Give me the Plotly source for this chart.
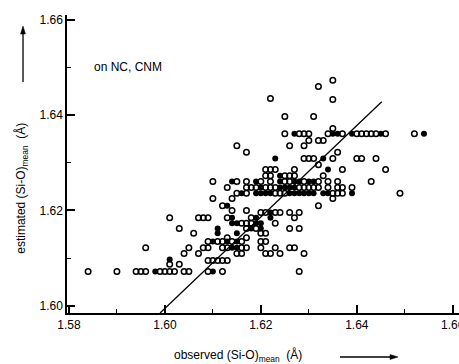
import plotly.graph_objects as go

# ---- data ----
# rows of estimated (Si-O)mean with observed values; open = one set, filled = other set
open_rows = [
    (1.6473, [1.635]),
    (1.6460, [1.632]),
    (1.6435, [1.622]),
    (1.6433, [1.635]),
    (1.6397, [1.625, 1.631]),
    (1.6372, [1.635]),
    (1.6361, [1.625, 1.628, 1.629, 1.630, 1.634, 1.637, 1.640, 1.641, 1.642, 1.643, 1.644, 1.646, 1.652]),
    (1.6347, [1.630, 1.632, 1.633]),
    (1.6336, [1.615, 1.626, 1.629]),
    (1.6322, [1.617, 1.636]),
    (1.6309, [1.629, 1.630, 1.631, 1.635, 1.640, 1.641, 1.644]),
    (1.6296, [1.632]),
    (1.6286, [1.621, 1.622, 1.623, 1.627, 1.637, 1.646]),
    (1.6273, [1.621, 1.622, 1.625, 1.626, 1.627, 1.633]),
    (1.6261, [1.610, 1.615, 1.617, 1.620, 1.622, 1.625, 1.626, 1.629, 1.632, 1.634, 1.636, 1.643]),
    (1.6248, [1.613, 1.617, 1.618, 1.619, 1.621, 1.622, 1.623, 1.628, 1.629, 1.630, 1.631, 1.632, 1.634, 1.636, 1.637, 1.639]),
    (1.6236, [1.615, 1.617, 1.623, 1.624, 1.625, 1.635, 1.636, 1.637, 1.649]),
    (1.6225, [1.610, 1.614, 1.635]),
    (1.6210, [1.612, 1.632]),
    (1.6200, [1.614, 1.617]),
    (1.6196, [1.620, 1.621, 1.623, 1.624, 1.626, 1.628]),
    (1.6185, [1.601, 1.607, 1.608, 1.609, 1.613, 1.618, 1.627]),
    (1.6173, [1.616, 1.617, 1.618, 1.623]),
    (1.6162, [1.603, 1.617, 1.619, 1.626, 1.628]),
    (1.6152, [1.606, 1.620, 1.621]),
    (1.6143, [1.613, 1.617]),
    (1.6135, [1.609, 1.611, 1.612, 1.614, 1.616, 1.620, 1.621]),
    (1.6122, [1.596, 1.605, 1.608, 1.609, 1.612, 1.613, 1.616, 1.617, 1.620, 1.623, 1.626, 1.627]),
    (1.6110, [1.604, 1.607, 1.615, 1.616, 1.621, 1.622, 1.624, 1.629]),
    (1.6095, [1.609, 1.610, 1.611, 1.612, 1.613]),
    (1.6087, [1.601, 1.603]),
    (1.6072, [1.584, 1.590, 1.594, 1.595, 1.596, 1.599, 1.600, 1.601, 1.602, 1.604, 1.605, 1.609, 1.612, 1.628]),
]

filled_rows = [
    (1.6361, [1.627, 1.635, 1.636, 1.639, 1.645, 1.654]),
    (1.6309, [1.623, 1.633]),
    (1.6286, [1.634]),
    (1.6273, [1.624]),
    (1.6261, [1.614, 1.619, 1.624, 1.627, 1.628, 1.630, 1.631]),
    (1.6248, [1.620, 1.624, 1.625, 1.626, 1.627]),
    (1.6236, [1.616, 1.619, 1.620, 1.621, 1.622, 1.626, 1.627, 1.628, 1.629, 1.630, 1.631, 1.633, 1.634, 1.639]),
    (1.6210, [1.613]),
    (1.6196, [1.622]),
    (1.6185, [1.614, 1.619, 1.622]),
    (1.6173, [1.614, 1.615, 1.619, 1.620]),
    (1.6162, [1.611, 1.618, 1.620]),
    (1.6152, [1.611, 1.615]),
    (1.6135, [1.610, 1.613, 1.615]),
    (1.6122, [1.614, 1.615]),
    (1.6097, [1.601]),
    (1.6072, [1.598, 1.610]),
]

fit_x = [1.599, 1.6452]
fit_y = [1.5985, 1.6428]

x_tick_vals = [1.58, 1.60, 1.62, 1.64, 1.66]
x_tick_text = ["1.58", "1.60", "1.62", "1.64", "1.66"]
y_tick_vals = [1.60, 1.62, 1.64, 1.66]
y_tick_text = ["1.60", "1.62", "1.64", "1.66"]
minor_vals = [1.59, 1.61, 1.63, 1.65]


def flatten(rows):
    xs, ys = [], []
    for y, row in rows:
        for x in row:
            xs.append(x)
            ys.append(y)
    return xs, ys


ox, oy = flatten(open_rows)
fx, fy = flatten(filled_rows)

FONT = "Liberation Sans, Arial, sans-serif"

fig = go.Figure()
fig.add_trace(go.Scatter(x=fit_x, y=fit_y, mode="lines",
                         line=dict(color="black", width=1.3), hoverinfo="skip"))
fig.add_trace(go.Scatter(x=ox, y=oy, mode="markers",
                         marker=dict(symbol="circle-open", size=5.5, color="black",
                                     line=dict(width=1.5, color="black"))))
fig.add_trace(go.Scatter(x=fx, y=fy, mode="markers",
                         marker=dict(symbol="circle", size=6, color="black",
                                     line=dict(width=0))))

axis_common = dict(showline=True, linecolor="black", linewidth=1.5,
                   ticks="inside", ticklen=8, tickwidth=1.5, tickcolor="black",
                   showgrid=False, zeroline=False, automargin=False,
                   ticklabeloverflow="allow",
                   tickfont=dict(family=FONT, size=12, color="black"))

fig.update_xaxes(range=[1.5796, 1.6613], tickmode="array",
                 tickvals=x_tick_vals, ticktext=x_tick_text,
                 minor=dict(tickmode="array", tickvals=minor_vals, ticks="inside",
                            ticklen=4, tickwidth=1, tickcolor="black"),
                 **axis_common)
fig.update_yaxes(range=[1.5985, 1.6610], tickmode="array",
                 tickvals=y_tick_vals, ticktext=y_tick_text,
                 minor=dict(tickmode="array", tickvals=minor_vals, ticks="inside",
                            ticklen=4, tickwidth=1, tickcolor="black"),
                 **axis_common)

annotations = [
    dict(text="on NC, CNM", xref="paper", yref="paper", x=0.064, y=0.825,
         xanchor="left", yanchor="middle", showarrow=False,
         font=dict(family=FONT, size=12, color="black")),
    dict(text="estimated (Si-O)<sub>mean</sub>  (Å)", xref="paper", yref="paper",
         x=-0.115, y=0.42, textangle=-90, xanchor="center", yanchor="middle",
         showarrow=False, font=dict(family=FONT, size=12, color="black")),
    dict(text="observed (Si-O)<sub>mean</sub>  (Å)", xref="paper", yref="paper",
         x=0.436, y=-0.143, xanchor="center", yanchor="middle",
         showarrow=False, font=dict(family=FONT, size=12, color="black")),
]

shapes = [
    # vertical arrow next to y title
    dict(type="line", xref="paper", yref="paper", x0=-0.1122, x1=-0.1122,
         y0=0.775, y1=0.94, line=dict(color="black", width=1.3)),
    dict(type="path", xref="paper", yref="paper",
         path="M -0.1122 0.963 L -0.1186 0.936 L -0.1059 0.936 Z",
         fillcolor="black", line=dict(color="black", width=0.5)),
    # horizontal arrow next to x title
    dict(type="line", xref="paper", yref="paper", x0=0.6964, x1=0.826,
         y0=-0.1477, y1=-0.1477, line=dict(color="black", width=1.3)),
    dict(type="path", xref="paper", yref="paper",
         path="M 0.8444 -0.1477 L 0.824 -0.1393 L 0.824 -0.156 Z",
         fillcolor="black", line=dict(color="black", width=0.5)),
]

fig.update_layout(width=459, height=364, autosize=False,
                  margin=dict(l=67, r=0, t=15, b=51),
                  paper_bgcolor="white", plot_bgcolor="white",
                  showlegend=False, annotations=annotations, shapes=shapes)

fig.write_html("out.html", config={"displayModeBar": False},
               post_script="document.body.style.margin='0';document.body.style.overflow='hidden';")
